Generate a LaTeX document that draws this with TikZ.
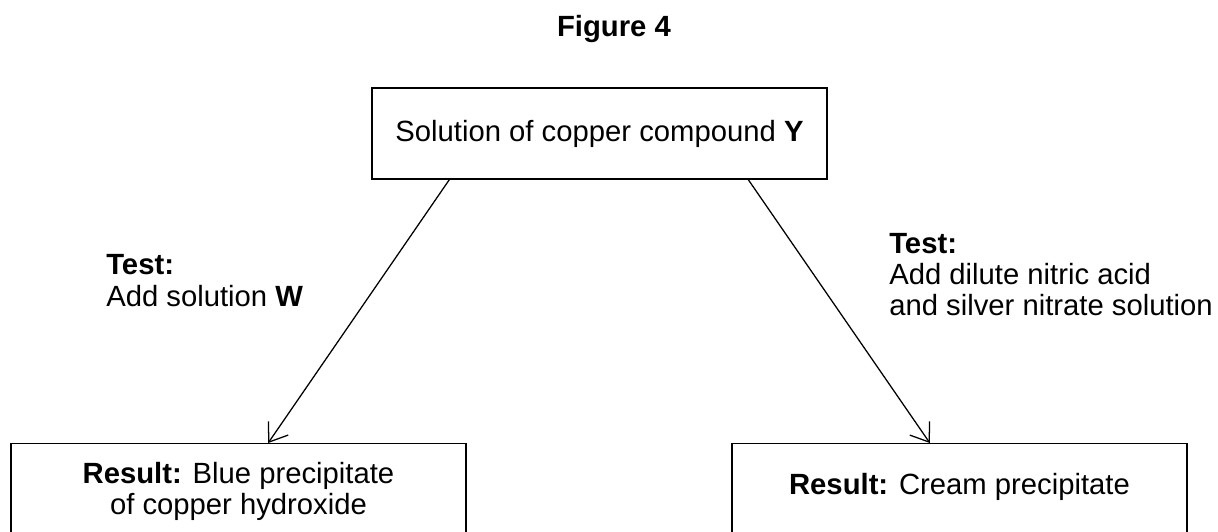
\documentclass[tikz,border=0pt]{standalone}
\usepackage{fontspec}
\setmainfont{Liberation Sans}
\usetikzlibrary{arrows.meta,calc}

\begin{document}
\begin{tikzpicture}[x=0.025cm,y=-0.025cm,
  box/.style={draw,line width=1pt,rectangle,minimum width=11.375cm,minimum height=2.275cm,inner sep=0pt},
  resultbox/.style={box,anchor=north,minimum height=2.4cm,align=center},
  testlabel/.style={anchor=north west,align=left,inner sep=0pt},
  link/.style={line width=0.9pt,-{Straight Barb[length=0.42cm,width=0.6cm]}}]
\fontsize{20.8}{22.2}\selectfont
\useasboundingbox (0,0) rectangle (1218,532);
\clip (0,0) rectangle (1218,532);
\node[font=\bfseries] (title) at (614,29) {Figure 4};
\node[box] (compoundY) at (599.5,133.5) {Solution of copper compound \textbf{Y}};
\node[resultbox] (resultW) at (238.5,443) {\textbf{Result:} Blue precipitate\\of copper hydroxide};
\node[resultbox,text depth=0.4cm] (resultAg) at (959.5,443) {\textbf{Result:} Cream precipitate};
\node[testlabel] (testW) at (106,254.5) {\textbf{Test:}\\Add solution \textbf{W}};
\node[testlabel] (testAg) at (889,233) {\textbf{Test:}\\Add dilute nitric acid\\and silver nitrate solution};
% arrows from the compound box to the two results
\draw[link] ($(compoundY.south west)!0.171!(compoundY.south east)$) -- ($(resultW.north west)!0.565!(resultW.north east)$);
\draw[link] ($(compoundY.south west)!0.826!(compoundY.south east)$) -- ($(resultAg.north west)!0.435!(resultAg.north east)$);
\end{tikzpicture}
\end{document}
